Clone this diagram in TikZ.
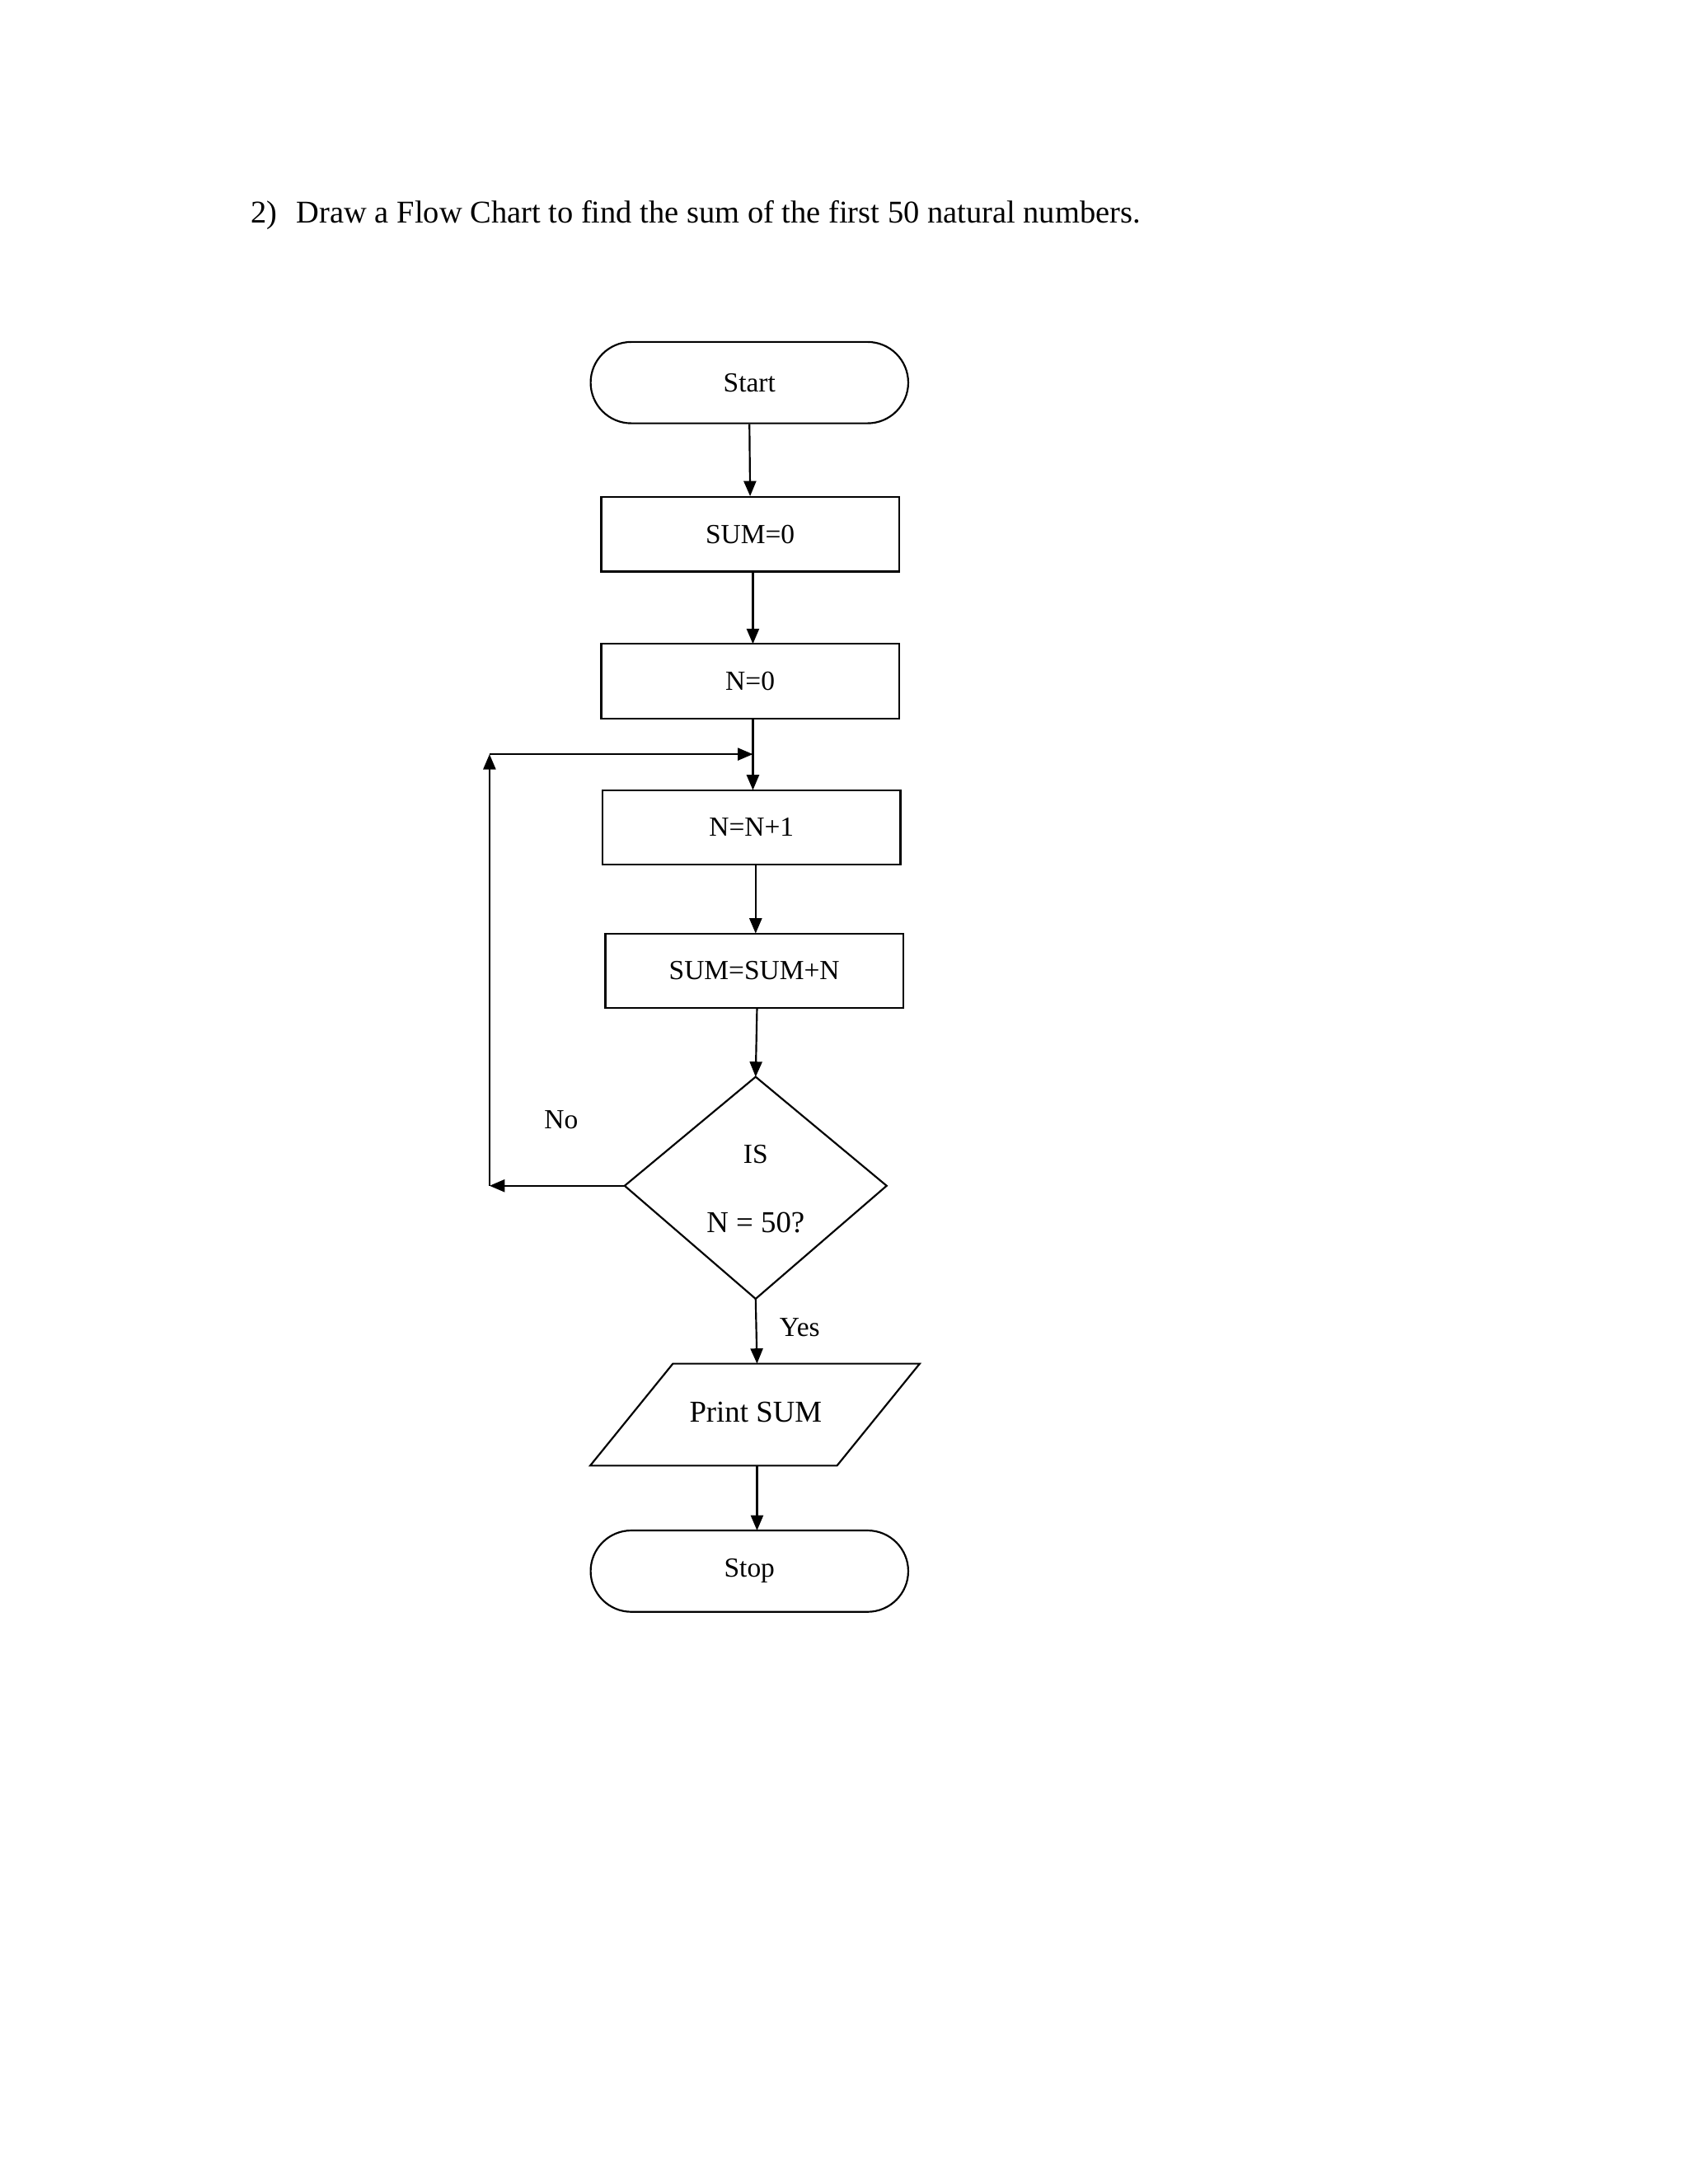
\documentclass[tikz,border=0pt]{standalone}
\usepackage{fontspec}
\setmainfont{Liberation Serif}
\usetikzlibrary{arrows.meta,shapes.geometric,shapes.misc}
\begin{document}
\begin{tikzpicture}[x=1pt,y=-1pt,
 line width=1.3pt,
 every node/.style={font=\fontsize{20}{22}\selectfont},
 term/.style={draw,rounded rectangle,minimum width=237pt,minimum height=59pt},
 proc/.style={draw,rectangle,minimum width=216pt,minimum height=54pt},
 arr/.style={-{Triangle[length=11pt,width=9pt]}}]
\useasboundingbox (0,0) rectangle (1224,1584);
\node[anchor=west,font=\fontsize{23}{26}\selectfont] (title) at (178,156) {2)\hspace{14pt}Draw a Flow Chart to find the sum of the first 50 natural numbers.};
\node[term] (start) at (543.5,277.5) {Start};
\node[proc] (s0) at (544,387.5) {SUM=0};
\node[proc] (n0) at (544,494) {N=0};
\node[proc] (n1) at (545,600) {N=N+1};
\node[proc] (ss) at (547,704) {SUM=SUM+N};
\coordinate (dt) at (548,781); \coordinate (dl) at (453,860);
\coordinate (dr) at (643,860); \coordinate (db) at (548,942);
\draw (dt) -- (dr) -- (db) -- (dl) -- cycle;
\node (is) at (548,837) {IS};
\node[font=\fontsize{22}{24}\selectfont] (n50) at (548,887) {N = 50?};
\draw (488,989) coordinate (p1) -- (667,989) -- (607,1063) -- (428,1063) coordinate (p4) -- cycle;
\node[font=\fontsize{22}{24}\selectfont] (pr) at (548,1024) {Print SUM};
\coordinate (pt) at (549,989); \coordinate (pb) at (549,1063);
\node[term] (stop) at (543.5,1139.5) {Stop};
\draw[arr] (start.south) -- (s0.north);
\draw[arr] (546,414) -- (546,467);
\draw[arr] (546,521) -- (546,573);
\draw[arr] (548,627) -- (548,677);
\draw[arr] (549,731) -- (dt);
\draw[arr] (db) -- (pt);
\draw[arr] (pb) -- (549,1110);
\coordinate (c1) at (355,860); \coordinate (c2) at (355,547); \coordinate (c3) at (546,547);
\draw[arr] (dl) -- (c1);
\draw[arr] (c1) -- (c2);
\draw[arr] (c2) -- (c3);
\node (no) at (407,812) {No};
\node (yes) at (580,963) {Yes};
\end{tikzpicture}
\end{document}
